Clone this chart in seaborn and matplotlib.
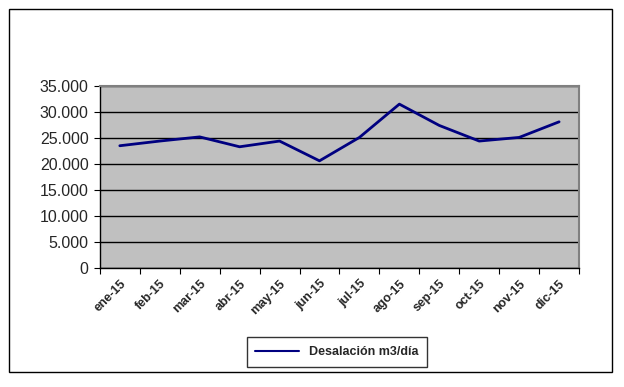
import numpy as np
import pandas as pd
import matplotlib
matplotlib.use("Agg")
import matplotlib.pyplot as plt
import matplotlib.transforms as mtransforms
import seaborn as sns
from matplotlib.patches import Rectangle
from matplotlib.ticker import FuncFormatter, FixedLocator

months = ["ene-15", "feb-15", "mar-15", "abr-15", "may-15", "jun-15",
          "jul-15", "ago-15", "sep-15", "oct-15", "nov-15", "dic-15"]
desalacion = [23500, 24400, 25200, 23300, 24400, 20600,
              25100, 31500, 27400, 24400, 25100, 28100]
series_name = "Desalación m3/día"

df = pd.DataFrame({"mes": months, "valor": desalacion})

sns.set_style("white")
plt.rcParams["font.family"] = ["Liberation Sans", "DejaVu Sans"]

fig = plt.figure(figsize=(6.24, 3.87), dpi=100)
ax = fig.add_axes([0.160, 0.3075, 0.768, 0.4705])

sns.lineplot(data=df, x="mes", y="valor", sort=False, color="#000080",
             linewidth=2, ax=ax, label=series_name, legend=False)

ax.set_facecolor("#c0c0c0")
ax.set_xlim(-0.5, len(months) - 0.5)
ax.set_ylim(0, 35000)
ax.set_yticks(np.arange(0, 35001, 5000))
ax.yaxis.set_major_formatter(FuncFormatter(lambda v, p: f"{int(v):,}".replace(",", ".")))
ax.grid(axis="y", color="black", linewidth=1)
ax.set_axisbelow(True)

# category ticks between months, labels centred on months
ax.xaxis.set_major_locator(FixedLocator(np.arange(-0.5, len(months), 1)))
ax.xaxis.set_minor_locator(FixedLocator(np.arange(len(months))))
ax.set_xticklabels([], minor=False)
ax.set_xticklabels(months, minor=True, rotation=45, ha="right", va="top",
                   rotation_mode="anchor", fontsize=9, fontweight="bold")
shift = mtransforms.ScaledTranslation(5 / 100, 0, fig.dpi_scale_trans)
for lbl in ax.get_xticklabels(minor=True):
    lbl.set_transform(lbl.get_transform() + shift)
ax.tick_params(axis="x", which="major", length=4, direction="out", color="black", bottom=True)
ax.tick_params(axis="x", which="minor", length=0, pad=7)
ax.tick_params(axis="y", length=4, direction="out", color="black", left=True,
               labelsize=11.5, pad=4)
ax.set_xlabel("")
ax.set_ylabel("")

for side in ["top", "right"]:
    ax.spines[side].set_color("#808080")
    ax.spines[side].set_linewidth(1.5)
for side in ["left", "bottom"]:
    ax.spines[side].set_color("black")
    ax.spines[side].set_linewidth(1)

# outer chart border
fig.patches.append(Rectangle((9 / 624, 1 - 372 / 387), 603 / 624, 363 / 387,
                             transform=fig.transFigure, fill=False,
                             edgecolor="black", linewidth=1))

leg = fig.legend(handles=ax.get_lines()[:1], labels=[series_name],
                 loc="center", bbox_to_anchor=(337 / 624, 1 - 352 / 387),
                 frameon=True, fancybox=False, edgecolor="black",
                 prop={"size": 9, "weight": "bold"}, handlelength=3.5,
                 borderpad=0.7, borderaxespad=0)
leg.get_frame().set_linewidth(1)
leg.get_lines()[0].set_linewidth(1.5)

fig.savefig("out.png", dpi=100)
